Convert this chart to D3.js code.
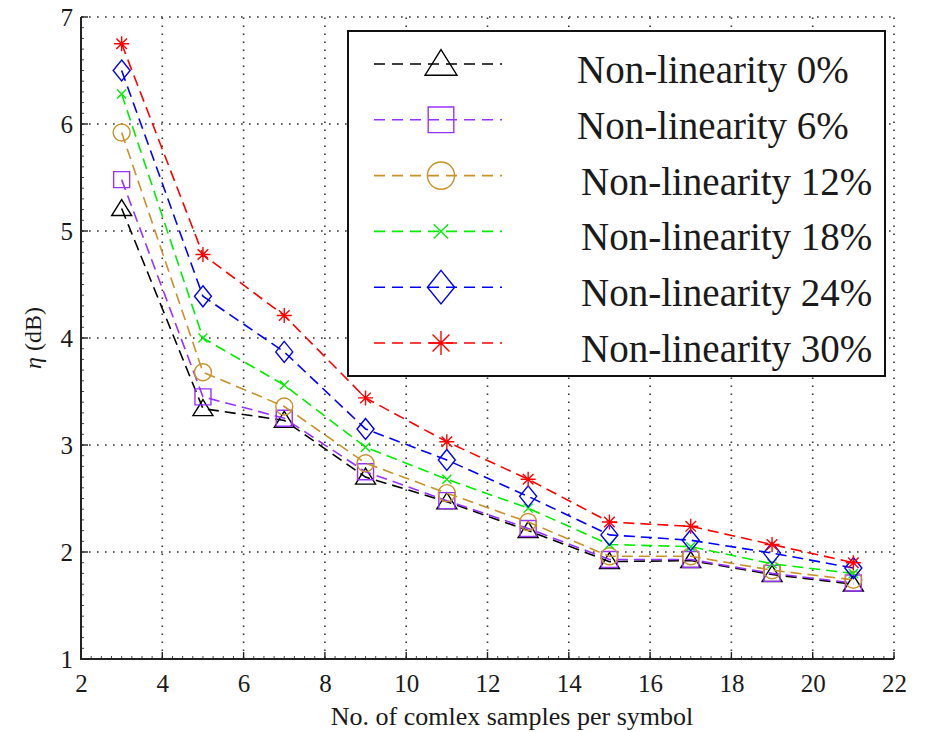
<!DOCTYPE html>
<html>
<head>
<meta charset="utf-8">
<script src="https://cdn.jsdelivr.net/npm/d3@7"></script>
<style>
html,body{margin:0;padding:0;background:#fff;}
svg{display:block;}
</style>
</head>
<body>
<svg id="chart" width="927" height="732"></svg>
<script>
// ---- data ----
const samples = [3, 5, 7, 9, 11, 13, 15, 17, 19, 21];
const nl0  = [5.21, 3.34, 3.23, 2.70, 2.47, 2.20, 1.91, 1.92, 1.79, 1.70];
const nl6  = [5.48, 3.45, 3.25, 2.75, 2.48, 2.22, 1.93, 1.93, 1.80, 1.71];
const nl12 = [5.92, 3.68, 3.36, 2.83, 2.55, 2.28, 1.96, 1.96, 1.83, 1.74];
const nl18 = [6.28, 4.00, 3.56, 2.98, 2.68, 2.41, 2.07, 2.05, 1.89, 1.80];
const nl24 = [6.50, 4.39, 3.87, 3.15, 2.86, 2.52, 2.16, 2.11, 1.99, 1.85];
const nl30 = [6.75, 4.78, 4.21, 3.44, 3.03, 2.68, 2.28, 2.24, 2.07, 1.90];
const seriesNames = ["Non-linearity 0%", "Non-linearity 6%", "Non-linearity 12%",
                     "Non-linearity 18%", "Non-linearity 24%", "Non-linearity 30%"];
const xTicks = [2, 4, 6, 8, 10, 12, 14, 16, 18, 20, 22];
const yTicks = [1, 2, 3, 4, 5, 6, 7];
const xLabel = "No. of comlex samples per symbol";

// ---- styles ----
const FONT = "'Liberation Serif', 'Times New Roman', serif";
const seriesValues = [nl0, nl6, nl12, nl18, nl24, nl30];
const colors = ["#000000", "#9933ff", "#c8922a", "#00ee00", "#0000ff", "#ff0000"];
const markers = ["triangle", "square", "circle", "x", "diamond", "star"];

const svg = d3.select("#chart");
const L = 81, R = 894, T = 17, B = 659;
const x = d3.scaleLinear().domain([2, 22]).range([L, R]);
const y = d3.scaleLinear().domain([1, 7]).range([B, T]);

// grid
const grid = svg.append("g");
grid.selectAll("line.vx").data(xTicks.slice(1)).enter().append("line")
  .attr("x1", d => x(d)).attr("x2", d => x(d)).attr("y1", B).attr("y2", T)
  .attr("stroke", "#333").attr("stroke-width", 1.6).attr("stroke-dasharray", "1.6,6.4");
grid.selectAll("line.hy").data(yTicks.slice(1)).enter().append("line")
  .attr("y1", d => y(d)).attr("y2", d => y(d)).attr("x1", L).attr("x2", R)
  .attr("stroke", "#333").attr("stroke-width", 1.6).attr("stroke-dasharray", "1.6,6.4");

// axes
const xAxis = d3.axisBottom(x).tickValues(xTicks).tickFormat(d3.format("d")).tickSize(0).tickPadding(15);
const yAxis = d3.axisLeft(y).tickValues(yTicks).tickFormat(d3.format("d")).tickSize(0).tickPadding(8);
const gx = svg.append("g").attr("transform", `translate(0,${B})`).call(xAxis);
const gy = svg.append("g").attr("transform", `translate(${L},0)`).call(yAxis);
gx.select(".domain").remove(); gy.select(".domain").remove();
[gx, gy].forEach(g => {
  g.attr("font-family", null);
  g.selectAll("text").style("font-family", FONT).style("font-size", "25px").attr("fill", "#1a1a1a");
});

// minor ticks
const xMinor = d3.range(2, 22.001, 0.25);
const yMinor = d3.range(1, 7.001, 0.1);
svg.append("g").selectAll("line").data(xMinor).enter().append("line")
  .attr("x1", d => x(d)).attr("x2", d => x(d)).attr("y1", B).attr("y2", B - 3)
  .attr("stroke", "#444").attr("stroke-width", 1);
svg.append("g").selectAll("line").data(yMinor).enter().append("line")
  .attr("y1", d => y(d)).attr("y2", d => y(d)).attr("x1", L).attr("x2", L + 3)
  .attr("stroke", "#444").attr("stroke-width", 1);
svg.append("g").selectAll("line").data(xTicks).enter().append("line")
  .attr("x1", d => x(d)).attr("x2", d => x(d)).attr("y1", B).attr("y2", B - 7)
  .attr("stroke", "#222").attr("stroke-width", 1.4);
svg.append("g").selectAll("line").data(yTicks).enter().append("line")
  .attr("y1", d => y(d)).attr("y2", d => y(d)).attr("x1", L).attr("x2", L + 7)
  .attr("stroke", "#222").attr("stroke-width", 1.4);
svg.append("path").attr("d", `M${L},${T}V${B}H${R}`)
  .attr("fill", "none").attr("stroke", "#222").attr("stroke-width", 2);

// labels
svg.append("text").attr("x", 512).attr("y", 725).attr("text-anchor", "middle")
  .style("font-family", FONT).style("font-size", "26px").attr("fill", "#1a1a1a").text(xLabel);
const yl = svg.append("text").attr("transform", "translate(41,338) rotate(-90)")
  .attr("text-anchor", "middle").style("font-family", FONT).style("font-size", "24px").attr("fill", "#1a1a1a");
yl.append("tspan").attr("font-style", "italic").text("η");
yl.append("tspan").text(" (dB)");

// marker path
function markerPath(type, k) {
  const p = d3.path();
  if (type === "triangle") {
    const w = 10 * k, ht = 9 * k, hb = 7 * k;
    p.moveTo(0, -ht); p.lineTo(w, hb); p.lineTo(-w, hb); p.closePath();
  } else if (type === "square") {
    const h = 8 * k; p.rect(-h, -h, 2 * h, 2 * h);
  } else if (type === "circle") {
    const r = 8.5 * k; p.moveTo(r, 0); p.arc(0, 0, r, 0, 2 * Math.PI);
  } else if (type === "x") {
    const h = 4.5 * k; p.moveTo(-h, -h); p.lineTo(h, h); p.moveTo(h, -h); p.lineTo(-h, h);
  } else if (type === "diamond") {
    const w = 8.5 * k, h = 10.5 * k;
    p.moveTo(0, -h); p.lineTo(w, 0); p.lineTo(0, h); p.lineTo(-w, 0); p.closePath();
  } else if (type === "star") {
    const h = 7.5 * k, d = 5.3 * k;
    p.moveTo(-h, 0); p.lineTo(h, 0); p.moveTo(0, -h); p.lineTo(0, h);
    p.moveTo(-d, -d); p.lineTo(d, d); p.moveTo(d, -d); p.lineTo(-d, d);
  }
  return p.toString();
}

const line = d3.line().x(d => x(d[0])).y(d => y(d[1]));
seriesValues.forEach((vals, i) => {
  const pts = samples.map((s, j) => [s, vals[j]]);
  const g = svg.append("g");
  g.append("path").attr("d", line(pts)).attr("fill", "none")
    .attr("stroke", colors[i]).attr("stroke-width", 1.6).attr("stroke-dasharray", "11,6");
  g.selectAll("path.m").data(pts).enter().append("path")
    .attr("transform", d => `translate(${x(d[0])},${y(d[1])})`)
    .attr("d", markerPath(markers[i], 1)).attr("fill", "none")
    .attr("stroke", colors[i]).attr("stroke-width", 1.4);
});

// legend
const lg = svg.append("g");
lg.append("rect").attr("x", 348).attr("y", 31).attr("width", 537).attr("height", 345)
  .attr("fill", "#fff").attr("stroke", "#111").attr("stroke-width", 2);
seriesNames.forEach((name, i) => {
  const cy = 64 + i * 55.8;
  lg.append("line").attr("x1", 374).attr("x2", 502).attr("y1", cy).attr("y2", cy)
    .attr("stroke", colors[i]).attr("stroke-width", 1.6).attr("stroke-dasharray", "11,7");
  lg.append("path").attr("transform", `translate(441,${cy})`)
    .attr("d", markerPath(markers[i], 1.6)).attr("fill", "none")
    .attr("stroke", colors[i]).attr("stroke-width", 1.4);
  lg.append("text").attr("x", i < 2 ? 577 : 581).attr("y", cy + 19)
    .style("font-family", FONT).style("font-size", "39px").attr("fill", "#1a1a1a").text(name);
});
</script>
</body>
</html>
